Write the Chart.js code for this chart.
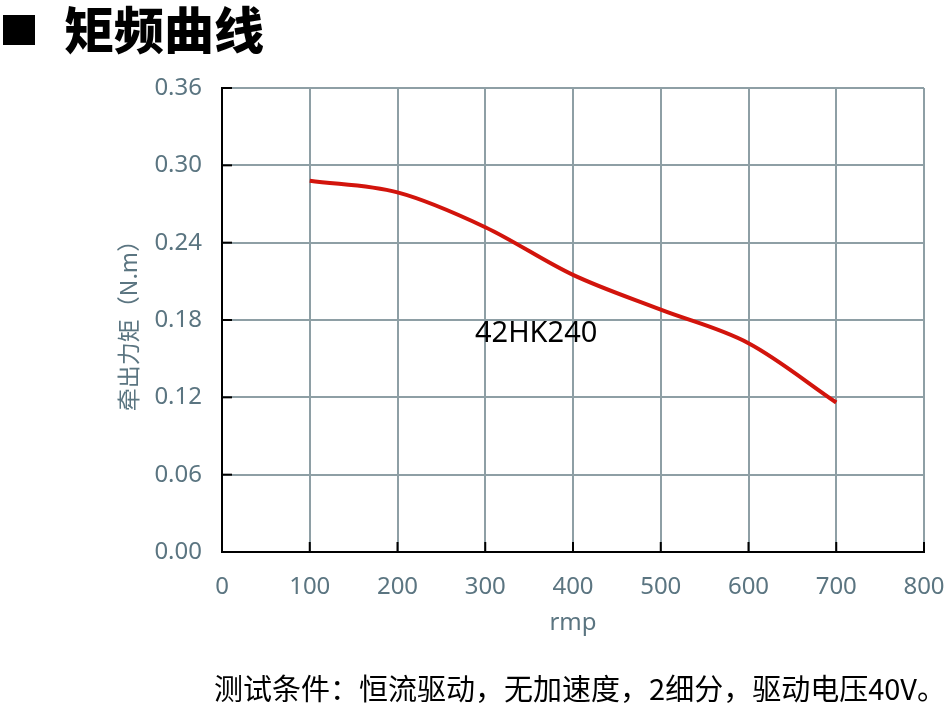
<!DOCTYPE html>
<html>
<head>
<meta charset="utf-8">
<script src="https://cdn.jsdelivr.net/npm/chart.js@4"></script>
<style>
  html, body { margin: 0; padding: 0; background: #fff; }
  #wrap { position: relative; width: 949px; height: 704px; overflow: hidden; }
  #chart { position: absolute; left: 0; top: 0; }
  .heading { position: absolute; left: 64px; top: -9px; font: 900 50px "Noto Sans CJK SC"; color: #000; }
  .square { position: absolute; left: 3px; top: 15px; width: 32px; height: 30px; background: #000; }
  .note { position: absolute; right: 3px; top: 666px; font: 29px "Noto Sans CJK SC"; color: #000; white-space: nowrap; }
</style>
</head>
<body>
<div id="wrap">
  <canvas id="chart" width="949" height="704"></canvas>
  <div class="square"></div>
  <div class="heading">矩频曲线</div>
  <div class="note">测试条件：恒流驱动，无加速度，2细分，驱动电压40V。</div>
</div>
<script>
// Datos de la curva
const speeds = [100, 200, 300, 400, 500, 600, 700];
const torque = [0.288, 0.279, 0.252, 0.215, 0.188, 0.162, 0.116];
const xTicks = [0, 100, 200, 300, 400, 500, 600, 700, 800];
const yTicks = [0, 0.06, 0.12, 0.18, 0.24, 0.30, 0.36];
const motorName = '42HK240';

const tickColor = '#5b7581';
const gridColor = '#8e9fa5';

// marcas hacia dentro y etiqueta del motor
const innerTicks = {
  id: 'innerTicks',
  afterDraw(chart) {
    const ctx = chart.ctx;
    const x = chart.scales.x, y = chart.scales.y;
    ctx.save();
    ctx.strokeStyle = '#000';
    ctx.lineWidth = 2;
    yTicks.forEach(v => {
      const py = y.getPixelForValue(v);
      ctx.beginPath(); ctx.moveTo(x.left, py); ctx.lineTo(x.left + 10, py); ctx.stroke();
    });
    xTicks.forEach(v => {
      const px = x.getPixelForValue(v);
      ctx.beginPath(); ctx.moveTo(px, y.bottom); ctx.lineTo(px, y.bottom - 10); ctx.stroke();
    });
    ctx.fillStyle = '#000';
    ctx.font = '29px "Noto Sans"';
    ctx.textAlign = 'center';
    ctx.textBaseline = 'middle';
    ctx.fillText(motorName, x.getPixelForValue(358), y.getPixelForValue(0.169));
    ctx.restore();
  }
};

new Chart(document.getElementById('chart'), {
  type: 'line',
  data: {
    datasets: [{
      data: speeds.map((s, i) => ({ x: s, y: torque[i] })),
      borderColor: '#d2140c',
      borderWidth: 4,
      pointRadius: 0,
      cubicInterpolationMode: 'monotone',
      fill: false
    }]
  },
  options: {
    responsive: false,
    animation: false,
    layout: { padding: { left: 114, right: 25, top: 88, bottom: 66 } },
    plugins: { legend: { display: false }, tooltip: { enabled: false } },
    scales: {
      x: {
        type: 'linear',
        min: 0, max: 800,
        afterBuildTicks: s => { s.ticks = xTicks.map(v => ({ value: v })); },
        afterFit: s => { s.height = 86; s.paddingLeft = 0; s.paddingRight = 0; },
        grid: { color: gridColor, lineWidth: 2, drawTicks: false },
        border: { color: '#000', width: 2 },
        ticks: { color: tickColor, font: { family: 'Noto Sans', size: 24 }, padding: 21 },
        title: { display: true, text: 'rmp', color: tickColor, font: { family: 'Noto Sans', size: 24 }, padding: 0 }
      },
      y: {
        min: 0, max: 0.36,
        afterBuildTicks: s => { s.ticks = yTicks.map(v => ({ value: v })); },
        afterFit: s => { s.width = 222 - 114; s.paddingTop = 0; s.paddingBottom = 0; },
        grid: { color: gridColor, lineWidth: 2, drawTicks: false },
        border: { color: '#000', width: 2 },
        ticks: {
          color: tickColor, font: { family: 'Noto Sans', size: 24 }, padding: 20,
          callback: v => v.toFixed(2)
        },
        title: { display: true, text: '牵出力矩（N.m）', color: tickColor, font: { family: 'Noto Sans CJK SC', size: 23 }, padding: 0 }
      }
    }
  },
  plugins: [innerTicks]
});
</script>
</body>
</html>
